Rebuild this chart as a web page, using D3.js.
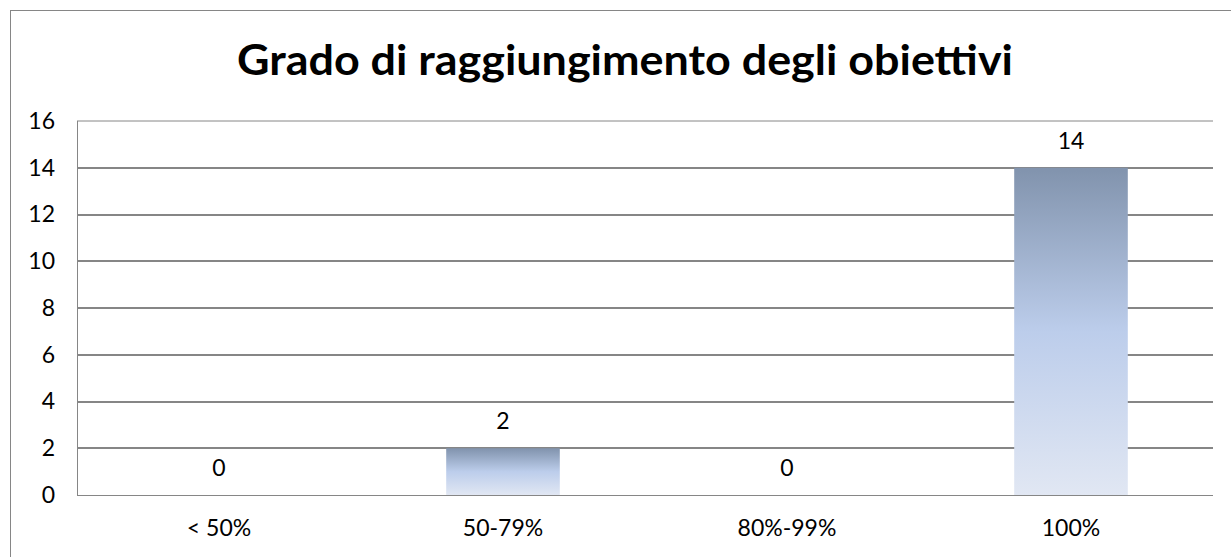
<!DOCTYPE html>
<html>
<head>
<meta charset="utf-8">
<script src="https://cdn.jsdelivr.net/npm/d3@7"></script>
<style>
  body { margin: 0; background: #fff; }
  svg { display: block; }
</style>
</head>
<body>
<div class="vis-bar"></div>
<script>
const categories = ['< 50%', '50-79%', '80%-99%', '100%'];
const values = [0, 2, 0, 14];
const yTicks = [0, 2, 4, 6, 8, 10, 12, 14, 16];
const title = 'Grado di raggiungimento degli obiettivi';

const W = 1231, H = 557;
const margin = { top: 121, right: 18, bottom: 62, left: 77 };
const width = W - margin.left - margin.right;
const height = H - margin.top - margin.bottom;
const labelFont = 'Lato, "Open Sans", sans-serif';

const svg = d3.select('.vis-bar')
  .append('svg')
  .attr('width', W)
  .attr('height', H);

// gradient for bars
const defs = svg.append('defs');
const grad = defs.append('linearGradient')
  .attr('id', 'barGrad')
  .attr('x1', 0).attr('y1', 0).attr('x2', 0).attr('y2', 1);
grad.append('stop').attr('offset', '0%').attr('stop-color', '#8193ad');
grad.append('stop').attr('offset', '50%').attr('stop-color', '#bccdeb');
grad.append('stop').attr('offset', '100%').attr('stop-color', '#e1e7f3');

// outer frame
svg.append('rect')
  .attr('x', 10.5).attr('y', 10.5)
  .attr('width', W).attr('height', H)
  .attr('fill', 'none')
  .attr('stroke', '#868686')
  .attr('stroke-width', 1);

svg.append('text')
  .attr('x', 625)
  .attr('y', 75)
  .attr('text-anchor', 'middle')
  .attr('textLength', 776)
  .attr('lengthAdjust', 'spacingAndGlyphs')
  .style('font-family', labelFont)
  .style('font-weight', 'bold')
  .style('font-size', '42px')
  .attr('fill', '#000')
  .text(title);

const g = svg.append('g')
  .attr('transform', 'translate(' + margin.left + ',' + margin.top + ')');

const x = d3.scaleBand()
  .domain(categories)
  .range([0, width])
  .paddingInner(0.6)
  .paddingOuter(0.3);

const y = d3.scaleLinear()
  .domain([0, 16])
  .range([height, 0]);

// gridlines
g.selectAll('.grid')
  .data(yTicks.filter(d => d > 0))
  .enter()
  .append('line')
  .attr('x1', 0).attr('x2', width)
  .attr('y1', d => Math.round(y(d)))
  .attr('y2', d => Math.round(y(d)))
  .attr('stroke', '#868686')
  .attr('stroke-width', d => d === 16 ? 1 : 2);

// bars
g.selectAll('.bar')
  .data(values)
  .enter()
  .append('rect')
  .attr('x', (d, i) => x(categories[i]))
  .attr('y', d => y(d))
  .attr('width', x.bandwidth())
  .attr('height', d => height - y(d))
  .attr('fill', 'url(#barGrad)');

// axes lines
g.append('line')
  .attr('x1', 0.5).attr('x2', 0.5)
  .attr('y1', 0).attr('y2', height)
  .attr('stroke', '#868686');
g.append('line')
  .attr('x1', 0).attr('x2', width)
  .attr('y1', height + 0.5).attr('y2', height + 0.5)
  .attr('stroke', '#868686');

const yAxis = d3.axisLeft(y).tickValues(yTicks).tickSize(0).tickPadding(22);
const yG = g.append('g').call(yAxis);
yG.select('.domain').remove();
yG.selectAll('text')
  .style('font-family', labelFont)
  .style('font-size', '23px')
  .attr('fill', '#000');

const xAxis = d3.axisBottom(x).tickSize(0).tickPadding(25);
const xG = g.append('g').attr('transform', 'translate(0,' + height + ')').call(xAxis);
xG.select('.domain').remove();
xG.selectAll('text')
  .style('font-family', labelFont)
  .style('font-size', '23px')
  .attr('fill', '#000');

// value labels
g.selectAll('.label')
  .data(values)
  .enter()
  .append('text')
  .attr('x', (d, i) => x(categories[i]) + x.bandwidth() / 2)
  .attr('y', d => y(d) - 27)
  .attr('dy', '0.35em')
  .attr('text-anchor', 'middle')
  .style('font-family', labelFont)
  .style('font-size', '23px')
  .attr('fill', '#000')
  .text(d => d);
</script>
</body>
</html>
